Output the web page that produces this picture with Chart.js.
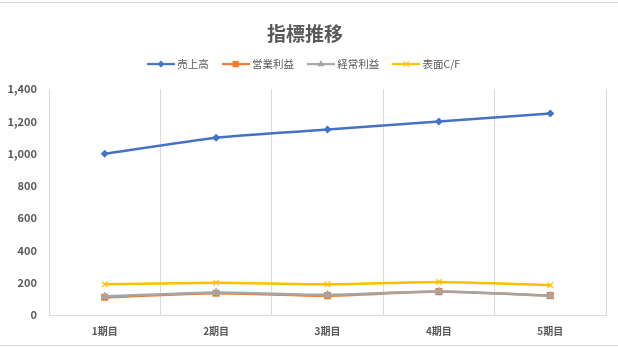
<!DOCTYPE html>
<html><head><meta charset="utf-8">
<script src="https://cdn.jsdelivr.net/npm/chart.js@4"></script>
<style>
html,body{margin:0;padding:0;background:#fff;}
#wrap{position:relative;width:618px;height:347px;overflow:hidden;}
#c{position:absolute;left:0;top:0;}
#topline{position:absolute;left:0;top:2px;width:618px;height:1px;background:#d9d9d9}
#botline{position:absolute;left:0;top:345px;width:618px;height:1px;background:#d9d9d9}
</style></head>
<body><div id="wrap"><canvas id="c" width="618" height="347"></canvas><div id="topline"></div><div id="botline"></div></div>
<script>
const categories = ['1期目', '2期目', '3期目', '4期目', '5期目'];
const seriesNames = ['売上高', '営業利益', '経常利益', '表面C/F'];
const sales = [1000, 1100, 1150, 1200, 1250];
const operatingProfit = [110, 135, 120, 145, 120];
const ordinaryProfit = [115, 140, 125, 145, 120];
const cashFlow = [190, 200, 190, 205, 185];
const yTickValues = [0, 200, 400, 600, 800, 1000, 1200, 1400];

const FONT = "'Noto Sans CJK JP', 'Noto Sans', sans-serif";
const colors = ['#4472C4', '#ED7D31', '#A5A5A5', '#FFC000'];
const styles = ['rectRot', 'rect', 'triangle', 'crossRot'];
const radii = [4, 5, 5, 4];

function drawMarker(ctx, style, x, y, r, color) {
  ctx.save();
  ctx.fillStyle = color; ctx.strokeStyle = color; ctx.lineWidth = 1.2;
  ctx.beginPath();
  if (style === 'rectRot') {
    ctx.moveTo(x, y - r); ctx.lineTo(x + r, y); ctx.lineTo(x, y + r); ctx.lineTo(x - r, y); ctx.closePath(); ctx.fill();
  } else if (style === 'rect') {
    const s = r * Math.SQRT1_2; ctx.rect(x - s, y - s, 2 * s, 2 * s); ctx.fill();
  } else if (style === 'triangle') {
    ctx.moveTo(x, y - r * 0.9); ctx.lineTo(x + r * 0.8, y + r * 0.5); ctx.lineTo(x - r * 0.8, y + r * 0.5); ctx.closePath(); ctx.fill();
  } else {
    const s = r * 0.75; ctx.moveTo(x - s, y - s); ctx.lineTo(x + s, y + s); ctx.moveTo(x + s, y - s); ctx.lineTo(x - s, y + s); ctx.stroke();
  }
  ctx.restore();
}
function legendIcon(i) {
  const cv = document.createElement('canvas');
  cv.width = 28; cv.height = 10;
  const ctx = cv.getContext('2d');
  ctx.strokeStyle = colors[i]; ctx.lineWidth = 2.2;
  ctx.beginPath(); ctx.moveTo(0, 5); ctx.lineTo(28, 5); ctx.stroke();
  drawMarker(ctx, styles[i], 14, 5, radii[i] - 0.5, colors[i]);
  return cv;
}

const seriesValues = [sales, operatingProfit, ordinaryProfit, cashFlow];
const datasets = seriesNames.map((name, i) => ({
  label: name,
  data: seriesValues[i],
  borderColor: colors[i],
  backgroundColor: colors[i],
  borderWidth: 2.5,
  pointStyle: styles[i],
  pointRadius: radii[i],
  pointBorderWidth: styles[i] === 'crossRot' ? 1.2 : 0,
  pointBackgroundColor: colors[i],
  pointBorderColor: colors[i],
  tension: 0.2,
  order: 4 - i
}));

const legendSpacer = {
  id: 'legendSpacer',
  afterInit(chart) {
    const lg = chart.legend;
    if (lg && !lg._patched) {
      const orig = lg.fit;
      lg.fit = function () { orig.call(this); this.height += 10; };
      lg._patched = true;
    }
  }
};

new Chart(document.getElementById('c'), {
  type: 'line',
  data: { labels: categories, datasets },
  plugins: [legendSpacer],
  options: {
    responsive: false,
    animation: false,
    devicePixelRatio: 1,
    layout: { padding: { top: 22, left: 4, right: 12, bottom: 0 } },
    plugins: {
      tooltip: { enabled: false },
      title: {
        display: true, text: '指標推移', color: '#595959',
        font: { family: FONT, size: 19, weight: 'bold' },
        padding: { top: 0, bottom: -2 }
      },
      legend: {
        display: true, position: 'top',
        labels: {
          color: '#595959', font: { family: FONT, size: 10.5 },
          usePointStyle: true, pointStyleWidth: 22, boxHeight: 8, padding: 16,
          generateLabels: (chart) => chart.data.datasets.map((ds, i) => ({
            text: ds.label, fillStyle: colors[i], strokeStyle: colors[i],
            pointStyle: legendIcon(i), lineWidth: 0, hidden: false, datasetIndex: i, fontColor: '#595959'
          }))
        }
      }
    },
    scales: {
      x: {
        offset: true,
        grid: { offset: true, display: true, color: '#d9d9d9', lineWidth: 1, drawTicks: false },
        border: { display: true, color: '#d9d9d9', width: 1 },
        ticks: { color: '#595959', font: { family: FONT, size: 10, weight: 'bold' }, padding: 10 },
        afterFit: (s) => { s.height = 32; }
      },
      y: {
        min: 0, max: 1400,
        afterBuildTicks: (s) => { s.ticks = yTickValues.map(v => ({ value: v })); },
        grid: { display: false, drawTicks: false },
        border: { display: true, color: '#d9d9d9', width: 1 },
        ticks: {
          color: '#595959', font: { family: FONT, size: 11, weight: 'bold' }, padding: 12,
          callback: (v) => v.toLocaleString('en-US')
        },
        afterFit: (s) => { s.width = 45; }
      }
    }
  }
});
</script>
</body></html>
